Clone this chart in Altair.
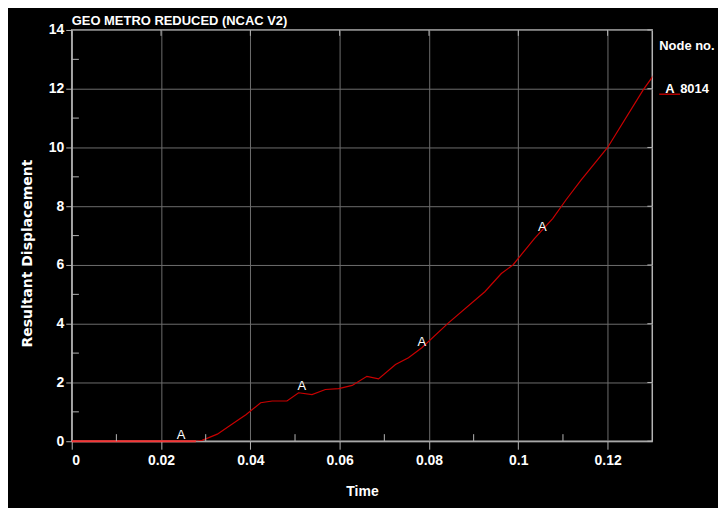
import altair as alt
import pandas as pd

# ---- data ----
time = [0, 0.0278, 0.0292, 0.0326, 0.0375, 0.039, 0.0423, 0.0449, 0.0482, 0.0508,
        0.0538, 0.0568, 0.0598, 0.0628, 0.0661, 0.0687, 0.0725, 0.0754, 0.0784,
        0.0843, 0.0925, 0.0962, 0.0988, 0.1036, 0.1077, 0.1107, 0.114, 0.12,
        0.128, 0.1305]
disp = [0, 0, 0.03, 0.24, 0.75, 0.9, 1.31, 1.37, 1.37, 1.65,
        1.59, 1.76, 1.79, 1.90, 2.21, 2.12, 2.61, 2.84, 3.18,
        4.02, 5.09, 5.71, 6.0, 6.9, 7.58, 8.22, 8.88, 10.0,
        11.97, 12.5]
flat_time = [0, 0.0278]
flat_disp = [0, 0]
marker_time = [0.0245, 0.0515, 0.0784, 0.1054]
marker_disp = [0.0, 1.66, 3.18, 7.1]
marker_label = ["A", "A", "A", "A"]
x_major = [0, 0.02, 0.04, 0.06, 0.08, 0.1, 0.12]
x_minor = [0.01, 0.03, 0.05, 0.07, 0.09, 0.11]
y_major = [0, 2, 4, 6, 8, 10, 12, 14]
y_minor = [1, 3, 5, 7, 9, 11, 13]
legend_title = "Node no."
legend_letter = "A"
legend_node = "8014"
chart_title = "GEO METRO REDUCED  (NCAC V2)"

SANS = "Liberation Sans"
BORDER = "#b4b4b4"
GRID = "#6e6e6e"
RED = "#c80000"

df = pd.DataFrame({"t": time, "d": disp})
flat = pd.DataFrame({"t": flat_time, "d": flat_disp})
marks = pd.DataFrame({"t": marker_time, "d": marker_disp, "lab": marker_label})
xmin = pd.DataFrame({"t": x_minor})
ymin = pd.DataFrame({"d": y_minor})
ymaj = pd.DataFrame({"d": y_major})
xmaj = pd.DataFrame({"t": x_major})

xs = alt.Scale(domain=[0, 0.13], nice=False, zero=False)
ys = alt.Scale(domain=[0, 14], nice=False)

xaxis = alt.Axis(values=x_major, format="~g", title="Time", grid=True,
                 gridColor=GRID, tickColor=BORDER, tickSize=8, domainColor=BORDER,
                 labelColor="white", labelFont=SANS, labelFontSize=14,
                 labelFontWeight="bold", labelPadding=4,
                 titleColor="white", titleFont=SANS, titleFontSize=14,
                 titleFontWeight="bold", titleY=51, titleBaseline="middle")
yaxis = alt.Axis(values=y_major, title="Resultant Displacement", grid=True,
                 gridColor=GRID, tickColor=BORDER, tickSize=6, domainColor=BORDER,
                 labelColor="white", labelFont=SANS, labelFontSize=14,
                 labelFontWeight="bold", labelPadding=2,
                 titleColor="white", titleFont="DejaVu Sans", titleFontSize=14,
                 titleFontWeight="bold", titleAngle=270, titleX=-44, titleY=224,
                 titleBaseline="middle", titleAlign="center")

base_line = alt.Chart(df).mark_line(color=RED, strokeWidth=1.2, clip=True).encode(
    x=alt.X("t:Q", scale=xs, axis=xaxis),
    y=alt.Y("d:Q", scale=ys, axis=yaxis),
)
flat_line = alt.Chart(flat).mark_line(color="#ff4646", strokeWidth=2).encode(
    x=alt.X("t:Q", scale=xs), y=alt.Y("d:Q", scale=ys))

labels = alt.Chart(marks).mark_text(color="white", font=SANS, fontSize=13,
                                    baseline="bottom", dy=1).encode(
    x=alt.X("t:Q", scale=xs), y=alt.Y("d:Q", scale=ys), text="lab:N")

# minor ticks pointing inward
xminor = alt.Chart(xmin).mark_rule(color=BORDER, strokeWidth=1).encode(
    x=alt.X("t:Q", scale=xs), y=alt.datum(0), y2=alt.datum(0.24))
yminor = alt.Chart(ymin).mark_rule(color=BORDER, strokeWidth=1).encode(
    y=alt.Y("d:Q", scale=ys), x=alt.datum(0), x2=alt.datum(0.0016))
yright = alt.Chart(ymaj).mark_rule(color=BORDER, strokeWidth=1).encode(
    y=alt.Y("d:Q", scale=ys), x=alt.datum(0.13), x2=alt.datum(0.1289))
xtop = alt.Chart(xmaj).mark_rule(color=BORDER, strokeWidth=1).encode(
    x=alt.X("t:Q", scale=xs), y=alt.datum(14), y2=alt.datum(13.8))

# legend on the right
leg_df = pd.DataFrame({"a": [legend_title]})
txt = dict(color="white", font=SANS, fontSize=13, fontWeight="bold", align="left",
           baseline="alphabetic")
leg_title = alt.Chart(leg_df).mark_text(**txt).encode(
    x=alt.value(590), y=alt.value(20), text=alt.value(legend_title))
leg_letter = alt.Chart(leg_df).mark_text(**txt).encode(
    x=alt.value(596), y=alt.value(63), text=alt.value(legend_letter))
leg_node = alt.Chart(leg_df).mark_text(**txt).encode(
    x=alt.value(611), y=alt.value(63), text=alt.value(legend_node))
leg_sym = alt.Chart(leg_df).mark_rule(color="#e00000", strokeWidth=1.2).encode(
    x=alt.value(590), x2=alt.value(611), y=alt.value(64.5))

chart = alt.layer(
    flat_line, base_line, xminor, yminor, yright, xtop, labels,
    leg_title, leg_letter, leg_node, leg_sym,
).properties(
    width=583, height=413,
    title=alt.TitleParams(chart_title, anchor="start", frame="group", color="white",
                          font=SANS, fontSize=13, fontWeight="bold", offset=3, dy=8),
    autosize=alt.AutoSizeParams(type="none"),
    padding={"left": 64, "top": 21, "right": 66, "bottom": 66},
    background="#000000",
).configure_view(stroke=BORDER, strokeWidth=1.5)

chart.save("out.html", embed_options={"renderer": "svg", "actions": False})
